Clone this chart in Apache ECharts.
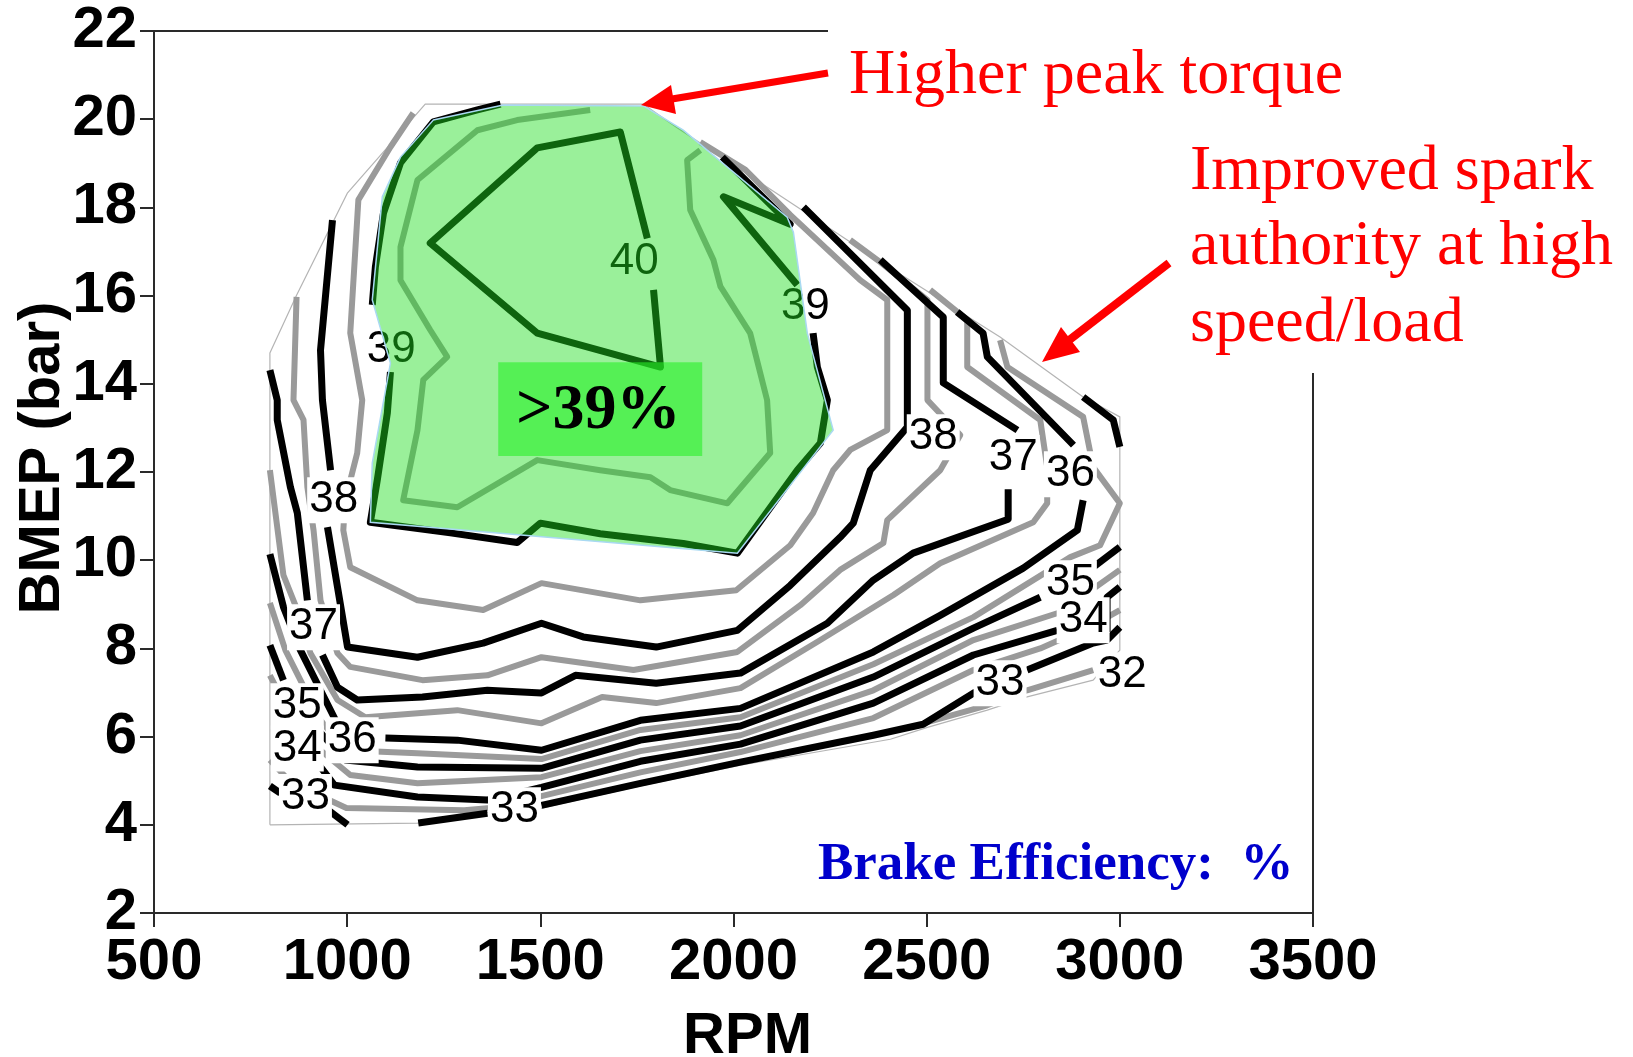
<!DOCTYPE html>
<html><head><meta charset="utf-8">
<script src="https://cdn.jsdelivr.net/npm/echarts@6/dist/echarts.min.js"></script>
<style>html,body{margin:0;padding:0;background:#fff}#c{width:1633px;height:1057px}</style>
</head><body><div id="c"></div>
<script>
// ---------- axes ----------
const X_TICKS = [500, 1000, 1500, 2000, 2500, 3000, 3500];
const Y_TICKS = [2, 4, 6, 8, 10, 12, 14, 16, 18, 20, 22];

// ---------- data (RPM, BMEP bar) ----------
const BOUNDARY = [[800,4.0],[800,14.7],[869,16.01],[1001,18.33],[1107,19.39],[1202,20.34],[1767,20.34],[1855,19.80],[2165,18.01],[2362,16.87],[2690,15.06],[2905,13.70],[3000,13.25],[3000,7.96],[2931,7.28],[2760,6.90],[2657,6.60],[2502,6.21],[2406,5.94],[2018,5.35],[1759,4.88],[1503,4.38],[1368,4.29],[1182,4.04],[800,4.0]];

const C40 = [[1777,17.30],[1707,19.71],[1492,19.35],[1215,17.19],[1492,15.15],[1811,14.38],[1793,16.13]];
const C39_5 = [[1914,19.30],[1880,19.07],[1888,17.94],[1948,16.81],[1966,16.21],[2043,15.15],[2087,13.63],[2095,12.43],[1984,11.29],[1836,11.59],[1785,11.88],[1655,12.04],[1492,12.27],[1285,11.20],[1145,11.36],[1182,12.95],[1197,14.09],[1259,14.61],[1215,15.22],[1138,16.35],[1138,17.10],[1182,18.62],[1337,19.75],[1440,19.98],[1629,20.21]];
const C39_A = [[1397,20.34],[1337,20.21],[1223,19.94],[1138,19.01],[1094,17.87],[1073,16.65],[1065,15.79]];
const C39_B = [[1112,14.27],[1104,13.34],[1078,11.82],[1060,10.86],[1267,10.62],[1440,10.40],[1500,10.84],[1655,10.60],[1870,10.38],[2010,10.16],[2165,12.04],[2225,12.66],[2243,13.63],[2217,14.38],[2206,15.15]];
const C39_C = [[2165,16.24],[1974,18.24],[2147,17.62],[1971,19.14]];
const C38_5 = [[1171,20.14],[1112,19.37],[1029,18.17],[1008,15.15],[1039,13.63],[1026,12.43],[995,11.36],[990,10.68],[1008,9.84],[1182,9.09],[1352,8.87],[1503,9.48],[1759,9.09],[2007,9.32],[2147,10.34],[2206,11.07],[2258,12.04],[2302,12.50],[2398,12.95],[2398,15.90],[2328,16.35],[2147,17.83],[2031,18.85],[1914,19.48]];
const C38_A = [[962,17.71],[931,14.76],[936,13.63],[957,12.04]];
const C38_B = [[949,10.75],[975,9.39],[1001,8.03],[1182,7.80],[1352,8.12],[1503,8.57],[1611,8.26],[1800,8.03],[2010,8.41],[2147,9.43],[2276,10.52],[2310,10.84],[2354,12.04],[2450,13.02],[2450,15.67],[2181,18.01]];
const C37_5 = [[869,15.97],[861,13.63],[887,13.18],[897,11.66],[913,10.68],[931,9.09],[975,7.89],[1008,7.58],[1195,7.28],[1363,7.39],[1503,7.80],[1741,7.51],[2010,7.92],[2173,8.98],[2276,9.78],[2388,10.39],[2398,10.91],[2535,12.04],[2587,12.84],[2502,13.63],[2502,15.90],[2380,16.76],[2302,17.26]];
const C37_A = [[800,14.31],[819,13.63],[819,13.18],[853,11.66],[871,11.07],[897,9.09]];
const C37_B = [[936,7.85],[975,7.12],[1026,6.83],[1195,6.90],[1363,7.05],[1503,6.99],[1591,7.39],[1800,7.21],[2018,7.44],[2243,8.57],[2362,9.55],[2465,10.16],[2711,10.93],[2711,11.61]];
const C37_C = [[2735,12.95],[2543,14.02],[2543,15.51],[2380,16.81]];
const C36_5 = [[800,12.04],[835,9.66],[871,8.87],[905,7.89],[975,6.83],[1047,6.44],[1285,6.60],[1503,6.30],[1660,6.90],[1800,6.76],[2018,7.10],[2225,8.19],[2414,9.21],[2535,9.93],[2776,10.86],[2812,11.29],[2812,12.11],[2794,13.18],[2605,14.38],[2605,15.45],[2509,16.13]];
const C36_A = [[800,10.14],[835,8.94],[879,7.96],[931,7.05],[970,6.37]];
const C36_B = [[1099,5.97],[1285,5.92],[1503,5.69],[1759,6.37],[2018,6.64],[2362,7.92],[2535,8.75],[2750,9.82],[2890,10.68],[2905,11.36]];
const C36_C = [[2880,12.61],[2657,14.61],[2646,15.15],[2579,15.63]];
const C35_5 = [[800,9.03],[840,7.96],[879,7.28],[931,6.37],[995,5.69],[1182,5.62],[1503,5.49],[1759,6.15],[2018,6.44],[2362,7.64],[2621,8.71],[2872,10.07],[2949,10.34],[3000,11.29],[2931,12.11],[2905,13.25],[2709,14.38],[2690,14.99]];
const C35_A = [[800,8.07],[835,7.28]];
const C35_B = [[913,6.26],[995,5.47],[1182,5.31],[1503,5.28],[1759,5.92],[2018,6.24],[2362,7.35],[2621,8.46],[2794,9.16]];
const C35_C = [[2931,9.84],[3000,10.30]];
const C35_D = [[2905,13.70],[2983,13.18],[3000,12.57]];
const C34_5 = [[800,7.39],[853,6.49],[931,5.69],[1008,5.13],[1182,4.94],[1503,5.08],[1759,5.67],[2018,6.03],[2362,7.05],[2621,8.19],[2846,8.82],[3000,9.78]];
const C34_B = [[913,5.99],[928,5.35],[967,4.90],[1182,4.63],[1363,4.56],[1503,4.85],[1759,5.44],[2018,5.83],[2362,6.76],[2621,7.85],[2838,8.41]];
const C34_C = [[2967,8.37],[2967,9.16],[3000,9.39]];
const C33_5 = [[800,5.47],[853,4.97],[998,4.38],[1303,4.33],[1370,4.38],[1503,4.65],[1759,5.19],[2018,5.65],[2362,6.42],[2621,7.51],[2794,8.00],[2931,8.53],[3000,8.87]];
const C33_A = [[800,4.88],[827,4.72]];
const C33_A2 = [[944,4.38],[1001,4.0]];
const C33_B = [[1184,4.04],[1363,4.26]];
const C33_C = [[1503,4.44],[1759,4.94],[2018,5.42],[2362,6.03],[2491,6.28],[2626,7.01]];
const C33_D = [[2760,7.51],[2931,8.12],[2967,8.19],[3000,8.48]];
const C32_5 = [[2502,6.33],[2657,6.71],[2760,7.05],[2931,7.51]];

// region above 39 % (highlight) and the ">39%" tag
const GREEN_REGION = [[1223,19.98],[1404,20.32],[1767,20.30],[1870,19.75],[2139,17.78],[2155,17.44],[2191,15.15],[2258,12.95],[2010,10.16],[1060,10.86],[1065,12.20],[1112,14.47],[1065,15.90],[1091,18.24],[1138,19.14]];
const TAG_BOX = [[1391,14.49],[1919,12.36]];
const TAG_POS = [1650,13.38];
const TAG_TEXT = '>39%';

// contour labels
const LABEL_UNDER_TEXT = ['40','39','39'];
const LABEL_UNDER_POS = [[1743,16.76],[1114,14.76],[2186,15.74]];
const LABEL_TEXT = ['38','38','37','37','36','36','35','35','34','34','33','33','33','32'];
const LABEL_POS = [[965,11.36],[2517,12.79],[913,8.48],[2724,12.32],[1013,5.92],[2872,11.95],[871,6.69],[2872,9.48],[871,5.73],[2905,8.64],[892,4.63],[1433,4.33],[2690,7.21],[3006,7.39]];

// ---------- chart ----------
const BLACK = '#000000', GRAY = '#9a9a9a';
const BW = 7, GW = 6;
function ln(data, color, width, z) {
  return {type:'line', data:data, symbol:'none', showSymbol:false, silent:true, animation:false,
    clip:false, z:z||2, lineStyle:{color:color, width:width, cap:'butt', join:'round'}};
}
const blackLines = [C40, C39_A, C39_B, C39_C, C38_A, C38_B, C37_A, C37_B, C37_C, C36_A, C36_B, C36_C,
  C35_A, C35_B, C35_C, C35_D, C34_B, C34_C, C33_A, C33_A2, C33_B, C33_C, C33_D];
const grayLines = [C39_5, C38_5, C37_5, C36_5, C35_5, C34_5, C33_5, C32_5];

const series = [];
series.push(ln(BOUNDARY, '#b4b4b4', 1.2, 1));
grayLines.forEach(d => series.push(ln(d, GRAY, GW, 2)));
blackLines.forEach(d => series.push(ln(d, BLACK, BW, 2)));

function labelSeries(pos, texts, withBg, z) {
  return {type:'custom', z:z, silent:true, animation:false, clip:false,
    data: pos.map(p => [p[0], p[1]]),
    renderItem: function(params, api) {
      const c = api.coord([api.value(0), api.value(1)]);
      const st = {text: texts[params.dataIndex], fill:'#000', font:'44px "Liberation Sans", Arial, sans-serif',
        align:'center', verticalAlign:'middle'};
      if (withBg) { st.backgroundColor = '#ffffff'; st.padding = [1, 2]; }
      return {type:'text', x:c[0], y:c[1], style:st};
    }};
}
series.push(labelSeries(LABEL_UNDER_POS, LABEL_UNDER_TEXT, false, 3));

series.push({type:'custom', z:4, silent:true, animation:false, clip:false,
  data:[GREEN_REGION[0]],
  renderItem: function(params, api) {
    const pts = GREEN_REGION.map(p => api.coord(p));
    return {type:'polygon', shape:{points:pts},
      style:{fill:'rgba(30,222,30,0.45)', stroke:'#a9d9f2', lineWidth:1.5}};
  }});

series.push({type:'custom', z:5, silent:true, animation:false, clip:false,
  data:[TAG_POS],
  renderItem: function(params, api) {
    const a = api.coord(TAG_BOX[0]), b = api.coord(TAG_BOX[1]);
    const t = api.coord(TAG_POS);
    return {type:'group', children:[
      {type:'rect', shape:{x:a[0], y:a[1], width:b[0]-a[0], height:b[1]-a[1]},
        style:{fill:'rgba(40,240,40,0.6)'}},
      {type:'text', x:t[0], y:t[1], style:{text:TAG_TEXT, fill:'#000',
        font:'bold 64px "Liberation Serif", "Times New Roman", serif', align:'center', verticalAlign:'middle'}}
    ]};
  }});

series.push(labelSeries(LABEL_POS, LABEL_TEXT, true, 6));

const axisFont = {fontSize:58, fontWeight:'bold', fontFamily:'"Liberation Sans", Arial, sans-serif', color:'#000'};
const option = {
  animation:false,
  backgroundColor:'#ffffff',
  grid:{left:154, right:320, top:31, bottom:144, show:true, borderColor:'#2a2a2a', borderWidth:2,
    backgroundColor:'transparent', containLabel:false, outerBoundsMode:'none'},
  xAxis:{type:'value', min:X_TICKS[0], max:X_TICKS[X_TICKS.length-1], interval:X_TICKS[1]-X_TICKS[0],
    splitLine:{show:false},
    axisLine:{show:true, onZero:false, lineStyle:{color:'#2a2a2a', width:2}},
    axisTick:{show:true, inside:false, length:14, lineStyle:{color:'#2a2a2a', width:2}},
    axisLabel:Object.assign({margin:21, showMinLabel:true, showMaxLabel:true, formatter:v => String(v)}, axisFont),
    name:'RPM', nameLocation:'middle', nameGap:95,
    nameTextStyle:Object.assign({padding:[0,0,0,28]}, axisFont)},
  yAxis:{type:'value', min:Y_TICKS[0], max:Y_TICKS[Y_TICKS.length-1], interval:Y_TICKS[1]-Y_TICKS[0],
    splitLine:{show:false},
    axisLine:{show:true, onZero:false, lineStyle:{color:'#2a2a2a', width:2}},
    axisTick:{show:true, inside:false, length:14, lineStyle:{color:'#2a2a2a', width:2}},
    axisLabel:Object.assign({margin:17, showMinLabel:true, showMaxLabel:true, formatter:v => String(v)}, axisFont),
    name:'BMEP (bar)', nameLocation:'middle', nameRotate:90, nameGap:82, nameMoveOverlap:false,
    nameTextStyle:Object.assign({padding:[0,0,0,28]}, axisFont)},
  series:series,
  graphic:[
    {type:'rect', z:100, silent:true, shape:{x:828, y:0, width:805, height:125}, style:{fill:'#ffffff'}},
    {type:'rect', z:100, silent:true, shape:{x:1182, y:125, width:451, height:248}, style:{fill:'#ffffff'}},
    {type:'rect', z:100, silent:true, shape:{x:1377, y:925, width:256, height:90}, style:{fill:'#ffffff'}},
    {type:'text', z:101, silent:true, x:849, y:76, style:{text:'Higher peak torque', fill:'#ff0000',
      font:'64px "Liberation Serif", "Times New Roman", serif', verticalAlign:'middle'}},
    {type:'text', z:101, silent:true, x:1190, y:172, style:{text:'Improved spark', fill:'#ff0000',
      font:'64px "Liberation Serif", "Times New Roman", serif', verticalAlign:'middle'}},
    {type:'text', z:101, silent:true, x:1190, y:247, style:{text:'authority at high', fill:'#ff0000',
      font:'64px "Liberation Serif", "Times New Roman", serif', verticalAlign:'middle'}},
    {type:'text', z:101, silent:true, x:1190, y:324, style:{text:'speed/load', fill:'#ff0000',
      font:'64px "Liberation Serif", "Times New Roman", serif', verticalAlign:'middle'}},
    {type:'text', z:101, silent:true, x:818, y:865, style:{text:'Brake Efficiency:  %', fill:'#0000cc',
      font:'bold 53px "Liberation Serif", "Times New Roman", serif', verticalAlign:'middle'}},
    {type:'line', z:101, silent:true, shape:{x1:828, y1:73, x2:672, y2:99}, style:{stroke:'#ff0000', lineWidth:7}},
    {type:'polygon', z:101, silent:true, shape:{points:[[641,105],[676,114],[671,85]]}, style:{fill:'#ff0000'}},
    {type:'line', z:101, silent:true, shape:{x1:1169, y1:263, x2:1068, y2:341}, style:{stroke:'#ff0000', lineWidth:8}},
    {type:'polygon', z:101, silent:true, shape:{points:[[1042,362],[1080,352],[1061,327]]}, style:{fill:'#ff0000'}}
  ]
};
const chart = echarts.init(document.getElementById('c'), null, {renderer:'canvas'});
chart.setOption(option);
</script></body></html>
